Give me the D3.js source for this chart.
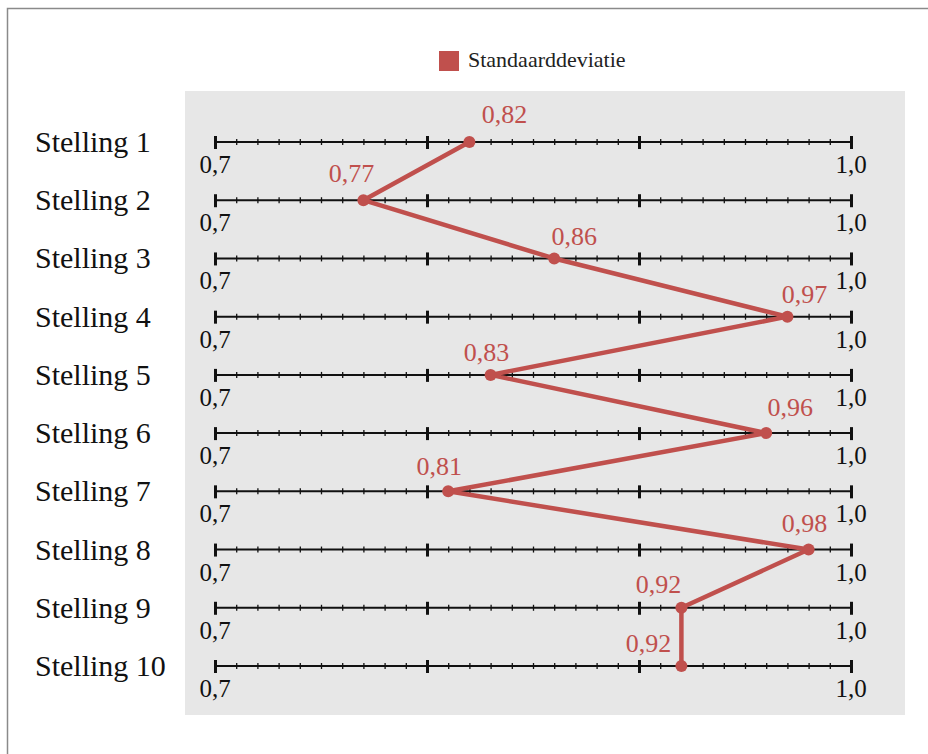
<!DOCTYPE html>
<html>
<head>
<meta charset="utf-8">
<script src="https://cdn.jsdelivr.net/npm/d3@7"></script>
<style>
  html, body { margin: 0; padding: 0; background: #fff; }
  svg { display: block; font-family: "Liberation Serif", "Times New Roman", serif; }
</style>
</head>
<body>
<svg id="chart" width="928" height="754"></svg>
<script>
// Statements and their standard deviation
const statements = ["Stelling 1", "Stelling 2", "Stelling 3", "Stelling 4", "Stelling 5",
                    "Stelling 6", "Stelling 7", "Stelling 8", "Stelling 9", "Stelling 10"];
const stdDev = [0.82, 0.77, 0.86, 0.97, 0.83, 0.96, 0.81, 0.98, 0.92, 0.92];
const seriesName = "Standaarddeviatie";

// Axis domain, major ticks and the end labels of each scale
const domain = [0.7, 1.0];
const majorTicks = [0.7, 0.8, 0.9, 1.0];
const endTickValues = [0.7, 1.0];
const endTickLabels = ["0,7", "1,0"];

// Nudge of each value label relative to its point (layout)
const labelNudge = [[35, -19], [-12, -18], [20, -13], [17, -14], [-4, -14],
                    [24, -17], [-9, -16], [-4, -18], [-23, -15], [-33, -14]];

const red = "#c0504d";
const fmt = v => d3.format(".2f")(v).replace(".", ",");

const svg = d3.select("#chart");

// outer frame
svg.append("rect")
  .attr("x", 7.5).attr("y", 8.5).attr("width", 1000).attr("height", 1000)
  .attr("fill", "none").attr("stroke", "#8a8a8a").attr("stroke-width", 1.5);

// plot panel
svg.append("rect")
  .attr("x", 185).attr("y", 91).attr("width", 720).attr("height", 624)
  .attr("fill", "#e7e7e7");

// legend
const legend = svg.append("g").attr("transform", "translate(439,51)");
legend.append("rect").attr("width", 20).attr("height", 20).attr("fill", red);
legend.append("text").attr("x", 29).attr("y", 16)
  .attr("font-size", 22).attr("fill", "#222").text(seriesName);

const x = d3.scaleLinear().domain(domain).range([215, 851]);
const y = d3.scalePoint().domain(statements).range([142, 666]);

const minorTicks = d3.range(0, 31).map(i => +(domain[0] + i * 0.01).toFixed(2));

statements.forEach((s, i) => {
  const row = svg.append("g").attr("transform", `translate(0,${y(s)})`);

  // minor ticks + axis line
  const minor = row.append("g").call(
    d3.axisBottom(x).tickValues(minorTicks).tickSize(3).tickFormat(""));
  minor.select(".domain").attr("stroke", "#111").attr("stroke-width", 2)
    .attr("d", `M${x(domain[0])},0H${x(domain[1])}`);
  minor.selectAll(".tick line").attr("y1", -3).attr("y2", 3)
    .attr("stroke", "#111").attr("stroke-width", 1.3);

  // major ticks
  const major = row.append("g").call(
    d3.axisBottom(x).tickValues(majorTicks).tickSize(7).tickFormat(""));
  major.select(".domain").remove();
  major.selectAll(".tick line").attr("y1", -6).attr("y2", 7)
    .attr("stroke", "#111").attr("stroke-width", 3);

  // end labels
  row.selectAll("text.end")
    .data(endTickValues)
    .join("text")
    .attr("class", "end")
    .attr("x", d => x(d))
    .attr("y", 31)
    .attr("text-anchor", "middle")
    .attr("font-size", 25)
    .attr("fill", "#111")
    .text((d, j) => endTickLabels[j]);

  // statement label
  svg.append("text")
    .attr("x", 35).attr("y", y(s) + 10)
    .attr("font-size", 30).attr("fill", "#111")
    .text(s);
});

// connecting line
const line = d3.line()
  .x(d => x(d))
  .y((d, i) => y(statements[i]));

svg.append("path")
  .datum(stdDev)
  .attr("d", line)
  .attr("fill", "none")
  .attr("stroke", red)
  .attr("stroke-width", 4.5)
  .attr("stroke-linejoin", "round");

// points
svg.selectAll("circle.pt")
  .data(stdDev)
  .join("circle")
  .attr("class", "pt")
  .attr("cx", d => x(d))
  .attr("cy", (d, i) => y(statements[i]))
  .attr("r", 6)
  .attr("fill", red);

// value labels
svg.selectAll("text.val")
  .data(stdDev)
  .join("text")
  .attr("class", "val")
  .attr("x", (d, i) => x(d) + labelNudge[i][0])
  .attr("y", (d, i) => y(statements[i]) + labelNudge[i][1])
  .attr("text-anchor", "middle")
  .attr("font-size", 26)
  .attr("fill", red)
  .text(d => fmt(d));
</script>
</body>
</html>
